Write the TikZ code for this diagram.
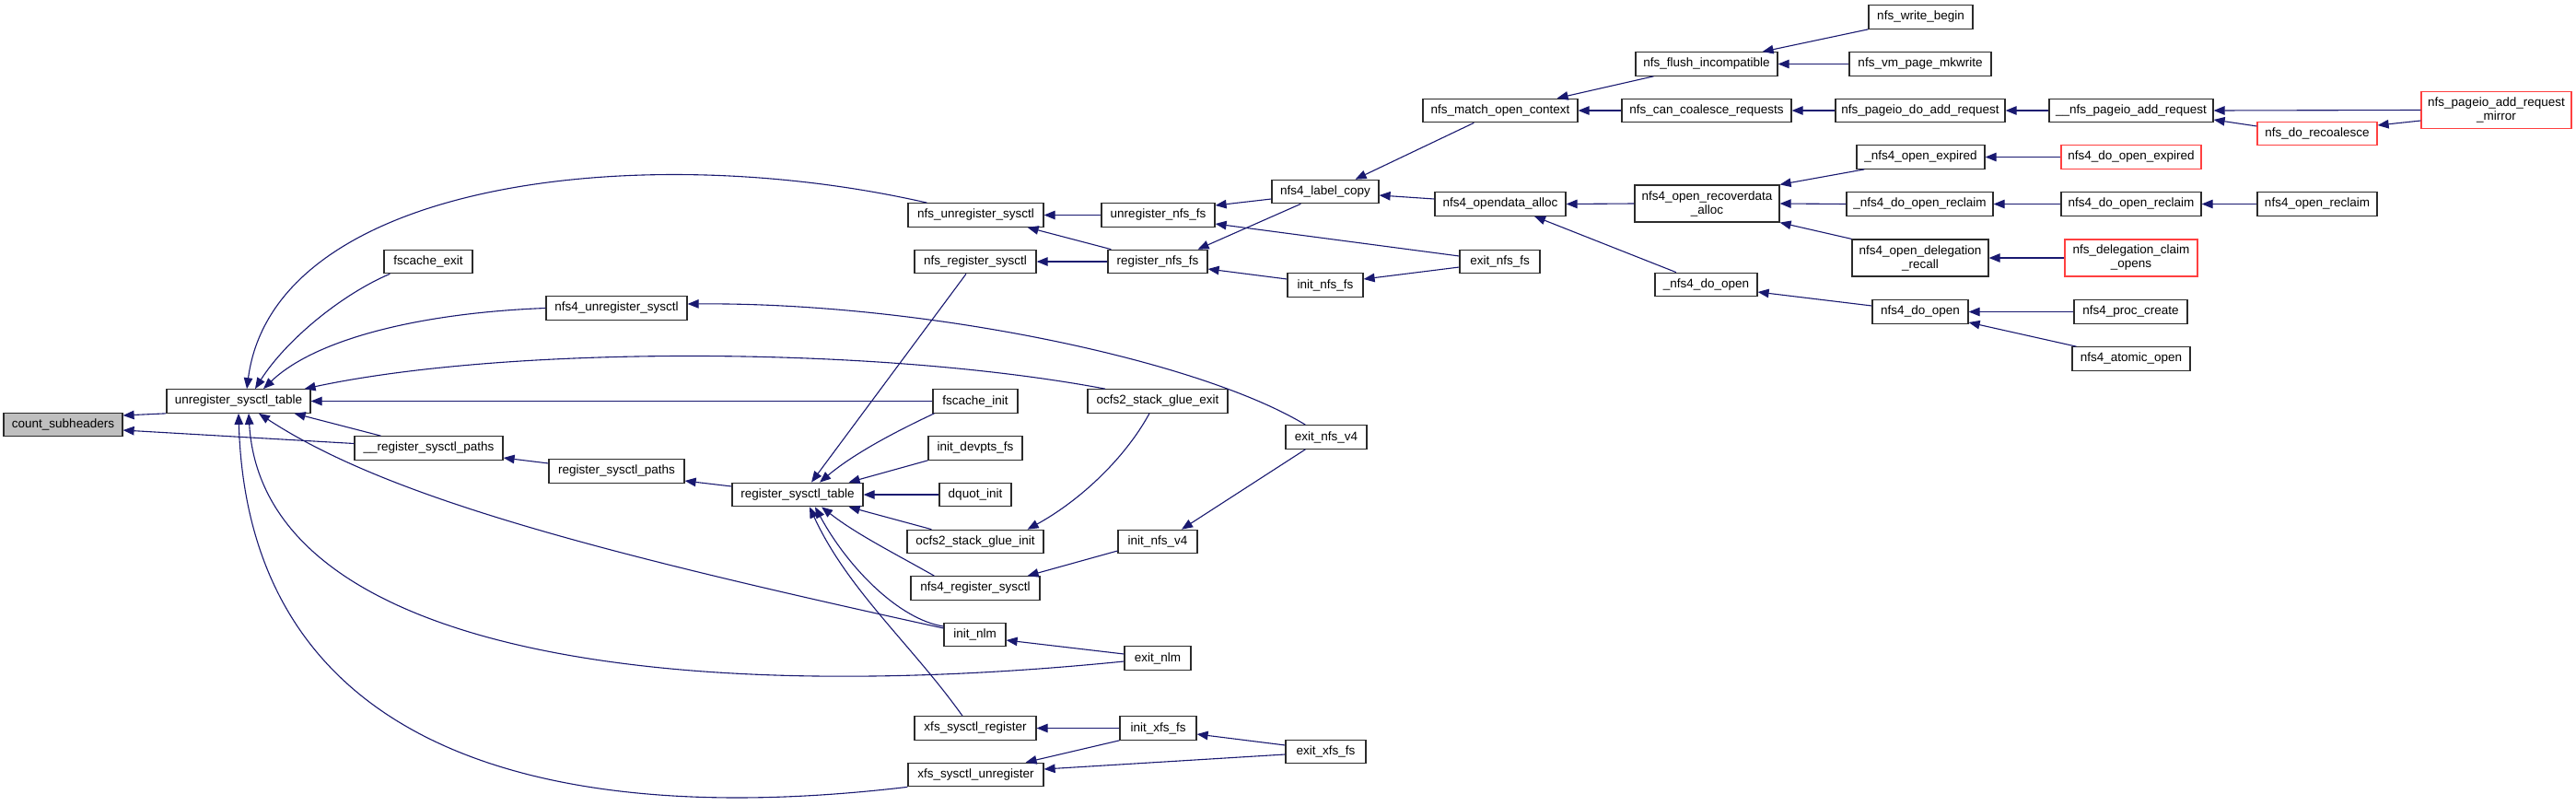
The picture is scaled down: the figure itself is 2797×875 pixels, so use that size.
\documentclass[tikz,border=0pt]{standalone}
\usepackage{fontspec}
\setmainfont{Liberation Sans}
\usetikzlibrary{arrows.meta,positioning,calc}
\definecolor{callblue}{HTML}{191970}
\definecolor{boxline}{HTML}{2B2B2B}
\definecolor{rootfill}{HTML}{BFBFBF}
\definecolor{trunc}{HTML}{FF4040}

\begin{document}
\begin{tikzpicture}[
  x=1pt, y=-1pt,
  font=\fontsize{13.5}{15}\selectfont,
  fn/.style={draw=boxline, fill=white, line width=1.2pt, inner xsep=3pt,
    inner ysep=2pt, minimum height=25.5pt, align=center},
  fnroot/.style={fn, fill=rootfill},
  fncut/.style={fn, draw=trunc},
  twoline/.style={minimum height=40pt},
  callto/.style={{Triangle[length=12pt,width=9.5pt]}-, draw=callblue, line width=1.1pt}
]
\fill[white] (0,0) rectangle (2797,875);
\useasboundingbox (0,0) rectangle (2797,875);

% sysctl core
\node[fnroot, minimum width=129pt] (count) at (68.5,461) {count\_subheaders};
\node[fn, minimum width=156pt] (unregtab) at (259,435.5) {unregister\_sysctl\_table};
\node[fn, minimum width=96pt] (fcexit) at (465,284) {fscache\_exit};
\node[fn, minimum width=153pt] (nfs4unreg) at (669.5,334.5) {nfs4\_unregister\_sysctl};
\node[fn, minimum width=161pt] (regpathsint) at (465.5,486.5) {\_\_register\_sysctl\_paths};
\node[fn, minimum width=147pt] (regpaths) at (669.5,511.5) {register\_sysctl\_paths};
\node[fn, minimum width=142pt] (regtab) at (866,537) {register\_sysctl\_table};

% callers of the sysctl tables
\node[fn, minimum width=147pt] (nfsunreg) at (1059.5,233.5) {nfs\_unregister\_sysctl};
\node[fn, minimum width=132pt] (nfsreg) at (1059,284) {nfs\_register\_sysctl};
\node[fn, minimum width=92pt] (fcinit) at (1059,435.5) {fscache\_init};
\node[fn, minimum width=102pt] (devpts) at (1059,486.5) {init\_devpts\_fs};
\node[fn, minimum width=78pt] (dquot) at (1059,537) {dquot\_init};
\node[fn, minimum width=148pt] (ocfsinit) at (1059,588) {ocfs2\_stack\_glue\_init};
\node[fn, minimum width=140pt] (nfs4reg) at (1059,638.5) {nfs4\_register\_sysctl};
\node[fn, minimum width=67pt] (initnlm) at (1058.5,689) {init\_nlm};
\node[fn, minimum width=132pt] (xfsreg) at (1059,790.5) {xfs\_sysctl\_register};
\node[fn, minimum width=147pt] (xfsunreg) at (1059.5,841) {xfs\_sysctl\_unregister};

\node[fn, minimum width=123pt] (unregnfs) at (1257.5,233.5) {unregister\_nfs\_fs};
\node[fn, minimum width=108pt] (regnfs) at (1257,284) {register\_nfs\_fs};
\node[fn, minimum width=152pt] (ocfsexit) at (1257,435.5) {ocfs2\_stack\_glue\_exit};
\node[fn, minimum width=86pt] (initnfsv4) at (1257,588) {init\_nfs\_v4};
\node[fn, minimum width=72pt] (exitnlm) at (1257,714.5) {exit\_nlm};
\node[fn, minimum width=83pt] (initxfs) at (1257.5,790.5) {init\_xfs\_fs};

\node[fn, minimum width=116pt] (labelcopy) at (1439,208) {nfs4\_label\_copy};
\node[fn, minimum width=82pt] (initnfsfs) at (1439,309.5) {init\_nfs\_fs};
\node[fn, minimum width=88pt] (exitnfsv4) at (1440,474.5) {exit\_nfs\_v4};
\node[fn, minimum width=87pt] (exitxfs) at (1439.5,816) {exit\_xfs\_fs};

% nfs open / pageio side
\node[fn, minimum width=168pt] (matchctx) at (1629,120) {nfs\_match\_open\_context};
\node[fn, minimum width=142pt] (opendata) at (1629,221.5) {nfs4\_opendata\_alloc};
\node[fn, minimum width=87pt] (exitnfsfs) at (1628.5,284) {exit\_nfs\_fs};

\node[fn, minimum width=154pt] (flushinc) at (1853,69.5) {nfs\_flush\_incompatible};
\node[fn, minimum width=184pt] (cancoal) at (1853,120) {nfs\_can\_coalesce\_requests};
\node[fn, twoline, minimum width=157pt] (recover) at (1853.5,221) {nfs4\_open\_recoverdata\\\_alloc};
\node[fn, minimum width=111pt] (nfs4doopenint) at (1852.5,309) {\_nfs4\_do\_open};

\node[fn, minimum width=113pt] (writebegin) at (2085.5,18.5) {nfs\_write\_begin};
\node[fn, minimum width=154pt] (mkwrite) at (2085,69.5) {nfs\_vm\_page\_mkwrite};
\node[fn, minimum width=184pt] (doaddreq) at (2085,120) {nfs\_pageio\_do\_add\_request};
\node[fn, minimum width=139pt] (openexp) at (2085.5,170.5) {\_nfs4\_open\_expired};
\node[fn, minimum width=159pt] (doreclaimint) at (2084.5,221.5) {\_nfs4\_do\_open\_reclaim};
\node[fn, twoline, minimum width=148pt] (delegrecall) at (2085,280) {nfs4\_open\_delegation\\\_recall};
\node[fn, minimum width=104pt] (nfs4doopen) at (2085,338.5) {nfs4\_do\_open};

\node[fn, minimum width=178pt] (pageioadd) at (2314,120) {\_\_nfs\_pageio\_add\_request};
\node[fncut, minimum width=152pt] (doopenexp) at (2314,170.5) {nfs4\_do\_open\_expired};
\node[fn, minimum width=152pt] (doreclaim) at (2314,221.5) {nfs4\_do\_open\_reclaim};
\node[fncut, twoline, minimum width=144pt] (claimopens) at (2314,280) {nfs\_delegation\_claim\\\_opens};
\node[fn, minimum width=123pt] (proccreate) at (2313.5,338.5) {nfs4\_proc\_create};
\node[fn, minimum width=128pt] (atomicopen) at (2314,389.5) {nfs4\_atomic\_open};

\node[fncut, minimum width=130pt] (recoal) at (2516,145) {nfs\_do\_recoalesce};
\node[fn, minimum width=130pt] (openreclaim) at (2516,221.5) {nfs4\_open\_reclaim};
\node[fncut, twoline, minimum width=163pt] (mirror) at (2710.5,119.5) {nfs\_pageio\_add\_request\\\_mirror};

% calls into count_subheaders and unregister_sysctl_table
\draw[callto] ($(count.east)+(0,-10)$) -- (unregtab.south west);
\draw[callto] ($(count.east)+(0,6)$) -- ($(regpathsint.west)+(0,-5)$);
\draw[callto] ($(unregtab.north)+(9,0)$) .. controls (298,195) and (700,150) .. ($(nfsunreg.north)+(-53,0)$);
\draw[callto] ($(unregtab.north)+(18,0)$) .. controls (310,370) and (370,320) .. ($(fcexit.south west)+(7,0)$);
\draw[callto] ($(unregtab.north)+(27,0)$) .. controls (340,370) and (450,340) .. (nfs4unreg.west);
\draw[callto] ($(unregtab.north east)+(-7,0)$) .. controls (550,375) and (950,375) .. ($(ocfsexit.north)+(-57,0)$);
\draw[callto] (unregtab.east) -- (fcinit.west);
\draw[callto] ($(unregtab.south east)+(-18,0)$) -- ($(regpathsint.north)+(-52,0)$);
\draw[callto] ($(unregtab.south)+(22,0)$) .. controls (420,540) and (650,600) .. ($(initnlm.west)+(0,-7)$);
\draw[callto] ($(unregtab.south)+(11,0)$) .. controls (285,700) and (700,770) .. ($(exitnlm.west)+(0,3.5)$);
\draw[callto] (unregtab.south) .. controls (270,820) and (600,900) .. (xfsunreg.south west);

% register_sysctl_table and its callers
\draw[callto] ($(regpathsint.east)+(0,10.5)$) -- ($(regpaths.west)+(0,-8.5)$);
\draw[callto] ($(regpaths.east)+(0,10.5)$) -- ($(regtab.west)+(0,-9)$);
\draw[callto] ($(regtab.north)+(15,0)$) -- ($(nfsreg.south)+(-10,0)$);
\draw[callto] ($(regtab.north)+(24,0)$) .. controls (930,490) and (980,465) .. ($(fcinit.south west)+(2,0)$);
\draw[callto] ($(regtab.north east)+(-16,0)$) -- (devpts.south west);
\draw[callto] (regtab.east) -- (dquot.west);
\draw[callto] ($(regtab.south east)+(-16,0)$) -- ($(ocfsinit.north west)+(27,0)$);
\draw[callto] ($(regtab.south)+(26,0)$) .. controls (930,580) and (970,600) .. ($(nfs4reg.north west)+(26,0)$);
\draw[callto] ($(regtab.south)+(19,0)$) .. controls (920,615) and (975,672) .. ($(initnlm.west)+(0,-9)$);
\draw[callto] ($(regtab.south)+(13,0)$) .. controls (920,640) and (990,700) .. ($(xfsreg.north)+(-14,0)$);

% nfs, ocfs2, nlm and xfs callers
\draw[callto] (nfsunreg.east) -- (unregnfs.west);
\draw[callto] ($(nfsunreg.south east)+(-18,0)$) -- ($(regnfs.north west)+(4,0)$);
\draw[callto] (nfsreg.east) -- (regnfs.west);
\draw[callto] ($(unregnfs.east)+(0,-10.5)$) -- ($(labelcopy.west)+(0,8)$);
\draw[callto] ($(unregnfs.east)+(0,9.5)$) -- ($(exitnfsfs.west)+(0,-6)$);
\draw[callto] ($(regnfs.north east)+(-11,0)$) -- ($(labelcopy.south west)+(32,0)$);
\draw[callto] ($(regnfs.east)+(0,8)$) -- ($(initnfsfs.west)+(0,-6.5)$);
\draw[callto] ($(initnfsfs.east)+(0,-6.5)$) -- ($(exitnfsfs.west)+(0,6)$);
\draw[callto] ($(ocfsinit.north east)+(-18,0)$) .. controls (1170,545) and (1220,500) .. ($(ocfsexit.south)+(-9,0)$);
\draw[callto] ($(nfs4reg.north east)+(-14,0)$) -- ($(initnfsv4.west)+(0,10)$);
\draw[callto] ($(initnfsv4.north)+(26,0)$) -- ($(exitnfsv4.south west)+(22,0)$);
\draw[callto] ($(nfs4unreg.east)+(0,-4.5)$) .. controls (1000,328) and (1300,390) .. ($(exitnfsv4.north west)+(22,0)$);
\draw[callto] ($(initnlm.east)+(0,6)$) -- ($(exitnlm.west)+(0,-4.5)$);
\draw[callto] (xfsreg.east) -- (initxfs.west);
\draw[callto] ($(xfsunreg.north east)+(-20,0)$) -- (initxfs.south west);
\draw[callto] ($(initxfs.east)+(0,6.5)$) -- ($(exitxfs.west)+(0,-7)$);
\draw[callto] ($(xfsunreg.east)+(0,-6)$) -- ($(exitxfs.west)+(0,3)$);

% nfs4_label_copy and beyond
\draw[callto] ($(labelcopy.north east)+(-26,0)$) -- ($(matchctx.south west)+(56,0)$);
\draw[callto] ($(labelcopy.east)+(0,4)$) -- ($(opendata.west)+(0,-5.5)$);
\draw[callto] ($(matchctx.north east)+(-23,0)$) -- ($(flushinc.south west)+(20,0)$);
\draw[callto] (matchctx.east) -- (cancoal.west);
\draw[callto] (opendata.east) -- (recover.west);
\draw[callto] ($(opendata.south)+(37,0)$) -- ($(nfs4doopenint.north)+(-32.5,0)$);
\draw[callto] ($(flushinc.north east)+(-17,0)$) -- (writebegin.south west);
\draw[callto] (flushinc.east) -- (mkwrite.west);
\draw[callto] (cancoal.east) -- (doaddreq.west);
\draw[callto] (recover.north east) -- ($(openexp.south west)+(9,0)$);
\draw[callto] (recover.east) -- (doreclaimint.west);
\draw[callto] (recover.south east) -- (delegrecall.north west);
\draw[callto] ($(nfs4doopenint.east)+(0,8)$) -- ($(nfs4doopen.west)+(0,-6.5)$);
\draw[callto] (doaddreq.east) -- (pageioadd.west);
\draw[callto] (pageioadd.east) -- (mirror.west);
\draw[callto] ($(pageioadd.east)+(0,10)$) -- ($(recoal.west)+(0,-8)$);
\draw[callto] ($(recoal.east)+(0,-9)$) -- ($(mirror.west)+(0,11.5)$);
\draw[callto] (openexp.east) -- (doopenexp.west);
\draw[callto] (doreclaimint.east) -- (doreclaim.west);
\draw[callto] (doreclaim.east) -- (openreclaim.west);
\draw[callto] (delegrecall.east) -- (claimopens.west);
\draw[callto] (nfs4doopen.east) -- (proccreate.west);
\draw[callto] ($(nfs4doopen.east)+(0,11.5)$) -- ($(atomicopen.north west)+(5,0)$);
\end{tikzpicture}
\end{document}
